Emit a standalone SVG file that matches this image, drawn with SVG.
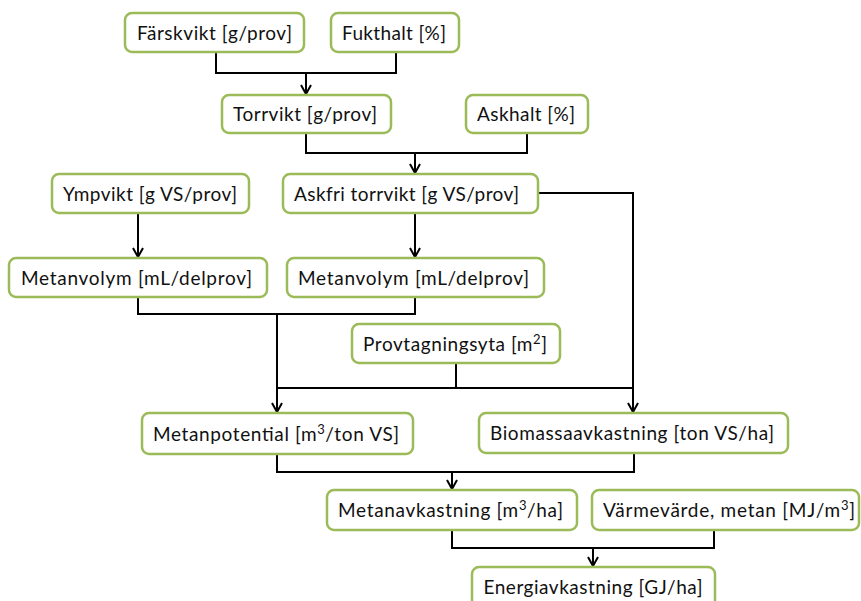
<svg xmlns="http://www.w3.org/2000/svg" width="861" height="601" viewBox="0 0 861 601">
<style>
.box{fill:#ffffff;stroke:#9bbb59;stroke-width:2.5}
.lbl{font-family:Lato,"Open Sans","Liberation Sans",sans-serif;font-size:19px;fill:#111111;text-anchor:middle}
.sup{font-size:13px}
.ln{fill:none;stroke:#000000;stroke-width:2}
.arr{fill:none;stroke:#000000;stroke-width:2;marker-end:url(#ah)}
</style>
<defs>
<marker id="ah" markerWidth="14" markerHeight="14" viewBox="-12 -7 14 14" refX="0" refY="0" orient="auto" markerUnits="userSpaceOnUse">
<path d="M-9,-5 L0,0 L-9,5" fill="none" stroke="#000000" stroke-width="2"/>
</marker>
</defs>
<rect width="861" height="601" fill="#ffffff"/>
<g id="connectors">
<path class="ln" d="M216,52 V73 H396 V52"/>
<path class="arr" d="M306,73 V94"/>
<path class="ln" d="M306,133 V153 H527 V133"/>
<path class="arr" d="M415,153 V173"/>
<path class="arr" d="M138,213 V257"/>
<path class="arr" d="M415,213 V257"/>
<path class="ln" d="M138,297 V314 H415 V297"/>
<path class="arr" d="M277,314 V412"/>
<path class="ln" d="M456,363 V388"/>
<path class="ln" d="M277,388 H633"/>
<path class="arr" d="M538,193 H633 V412"/>
<path class="ln" d="M277,454 V472 H634 V453"/>
<path class="arr" d="M452,472 V489"/>
<path class="ln" d="M452,530 V548 H714 V530"/>
<path class="arr" d="M593,548 V566"/>
</g>
<g id="n1"><rect class="box" x="125" y="13" width="179" height="39" rx="7"/><text class="lbl" x="214.5" y="39.5" textLength="155">Färskvikt [g/prov]</text></g>
<g id="n2"><rect class="box" x="331" y="13" width="128" height="39" rx="7"/><text class="lbl" x="394" y="39.5" textLength="104">Fukthalt [%]</text></g>
<g id="n3"><rect class="box" x="222" y="95" width="169" height="38" rx="7"/><text class="lbl" x="305" y="121" textLength="144">Torrvikt [g/prov]</text></g>
<g id="n4"><rect class="box" x="466" y="95" width="122" height="38" rx="7"/><text class="lbl" x="526" y="121" textLength="98">Askhalt [%]</text></g>
<g id="n5"><rect class="box" x="52" y="174" width="197" height="39" rx="7"/><text class="lbl" x="150" y="200.5" textLength="174">Ympvikt [g VS/prov]</text></g>
<g id="n6"><rect class="box" x="283" y="174" width="255" height="39" rx="7"/><text class="lbl" x="406.5" y="200.5" textLength="225">Askfri torrvikt [g VS/prov]</text></g>
<g id="n7"><rect class="box" x="9" y="258" width="258" height="39" rx="7"/><text class="lbl" x="136.5" y="284.5" textLength="231">Metanvolym [mL/delprov]</text></g>
<g id="n8"><rect class="box" x="287" y="258" width="257" height="39" rx="7"/><text class="lbl" x="413.5" y="284.5" textLength="231">Metanvolym [mL/delprov]</text></g>
<g id="n9"><rect class="box" x="352" y="324" width="208" height="39" rx="7"/><text class="lbl" x="455" y="350.5" textLength="184">Provtagningsyta [m<tspan class="sup" dy="-7">2</tspan><tspan dy="7">]</tspan></text></g>
<g id="n10"><rect class="box" x="142" y="413" width="271" height="41" rx="7"/><text class="lbl" x="276" y="440.5" textLength="246">Metanpotential [m<tspan class="sup" dy="-7">3</tspan><tspan dy="7">/ton VS]</tspan></text></g>
<g id="n11"><rect class="box" x="479" y="413" width="309" height="40" rx="7"/><text class="lbl" x="632" y="440" textLength="284">Biomassaavkastning [ton VS/ha]</text></g>
<g id="n12"><rect class="box" x="327" y="490" width="250" height="40" rx="7"/><text class="lbl" x="450.5" y="517" textLength="225">Metanavkastning [m<tspan class="sup" dy="-7">3</tspan><tspan dy="7">/ha]</tspan></text></g>
<g id="n13"><rect class="box" x="592" y="490" width="267" height="40" rx="7"/><text class="lbl" x="729" y="517" textLength="252">Värmevärde, metan [MJ/m<tspan class="sup" dy="-7">3</tspan><tspan dy="7">]</tspan></text></g>
<g id="n14"><rect class="box" x="472" y="567" width="243" height="40" rx="7"/><text class="lbl" x="593" y="594" textLength="219">Energiavkastning [GJ/ha]</text></g>
</svg>
